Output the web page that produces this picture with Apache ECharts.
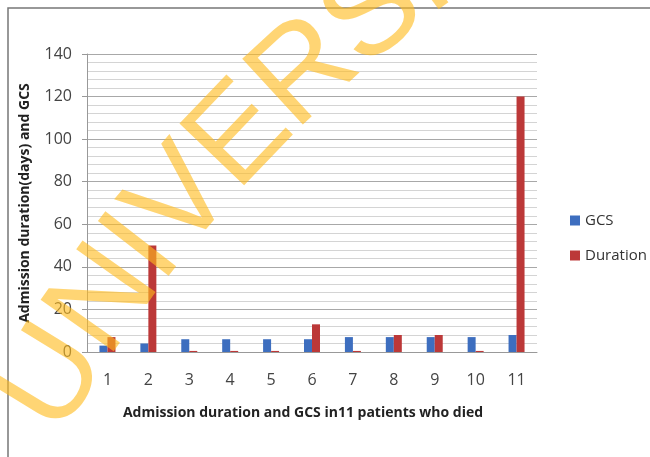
<!DOCTYPE html>
<html>
<head>
<meta charset="utf-8">
<script src="https://cdn.jsdelivr.net/npm/echarts@6/dist/echarts.min.js"></script>
<style>
  html, body { margin: 0; padding: 0; background: #fff; }
  #chart { width: 650px; height: 457px; }
</style>
</head>
<body>
<div id="chart"></div>
<script>
// patients 1..11
const categories = ['1', '2', '3', '4', '5', '6', '7', '8', '9', '10', '11']
const gcsValues = [3, 4, 6, 6, 6, 6, 7, 7, 7, 7, 8]
const durationValues = [7, 50, 0.5, 0.5, 0.5, 13, 0.5, 8, 8, 0.5, 120]
const yTicks = { min: 0, max: 140, interval: 20 }

const font = '"Open Sans", "Liberation Sans", sans-serif'
const chart = echarts.init(document.getElementById('chart'))

// scanned watermark: letters set along a big arc
const wmLetters = ['U', 'N', 'I', 'V', 'E', 'R', 'S', 'I', 'T', 'Y']
const wmAdvance = { U: 0.722, N: 0.722, I: 0.278, V: 0.667, E: 0.667, R: 0.722, S: 0.667, T: 0.611, Y: 0.667 }
function watermark() {
  const cx = 1278, cy = 1130, r = 1436, size = 130
  const phi0 = Math.atan2(379 - cy, 53 - cx)
  const out = []
  let s = -wmAdvance.U * size / 2
  wmLetters.forEach(ch => {
    const w = wmAdvance[ch] * size
    const phi = phi0 + (s + w / 2) / r
    s += w
    out.push({
      type: 'text',
      x: cx + r * Math.cos(phi),
      y: cy + r * Math.sin(phi),
      rotation: -phi - Math.PI / 2,
      z: 100,
      silent: true,
      style: {
        text: ch,
        fontFamily: '"Liberation Sans", Arial, sans-serif',
        fontSize: size,
        fill: 'rgba(255, 188, 30, 0.62)',
        align: 'center',
        verticalAlign: 'middle'
      }
    })
  })
  return out
}

const option = {
  animation: false,
  grid: { left: 87, right: 113, top: 54, bottom: 105 },
  legend: {
    orient: 'vertical',
    left: 565,
    top: 208,
    icon: 'rect',
    itemWidth: 10,
    itemHeight: 10,
    itemGap: 20,
    textStyle: { fontFamily: font, fontSize: 15, color: '#333' },
    data: ['GCS', 'Duration']
  },
  xAxis: {
    type: 'category',
    data: categories,
    axisLine: { lineStyle: { color: '#999' } },
    axisTick: { show: false },
    axisLabel: { fontFamily: font, fontSize: 16, color: '#444', margin: 20 }
  },
  yAxis: {
    type: 'value',
    min: yTicks.min,
    max: yTicks.max,
    interval: yTicks.interval,
    name: 'Admission duration(days) and GCS',
    nameLocation: 'middle',
    nameGap: 55,
    nameTextStyle: { fontFamily: font, fontSize: 14, fontWeight: 'bold', color: '#222' },
    axisLine: { show: true, lineStyle: { color: '#999' } },
    axisTick: { show: true, length: 5, lineStyle: { color: '#999' } },
    axisLabel: { fontFamily: font, fontSize: 16, color: '#444', margin: 15 },
    splitLine: { lineStyle: { color: '#a8a8a8' } },
    minorTick: { show: false, splitNumber: 5 },
    minorSplitLine: { show: true, lineStyle: { color: '#d4d4d4' } }
  },
  series: [
    {
      name: 'GCS',
      type: 'bar',
      data: gcsValues,
      barWidth: 8,
      barGap: '0%',
      itemStyle: { color: '#3D6EBF' }
    },
    {
      name: 'Duration',
      type: 'bar',
      data: durationValues,
      barWidth: 8,
      itemStyle: { color: '#BC3838' }
    }
  ],
  graphic: [
    {
      type: 'rect',
      shape: { x: 8, y: 8, width: 800, height: 600 },
      style: { fill: 'none', stroke: '#777', lineWidth: 1.5 },
      silent: true
    },
    {
      type: 'text',
      x: 303,
      y: 413,
      style: {
        text: 'Admission duration and GCS in11 patients who died',
        fontFamily: font,
        fontSize: 14,
        fontWeight: 'bold',
        fill: '#222',
        align: 'center',
        verticalAlign: 'middle'
      }
    }
  ].concat(watermark())
}

chart.setOption(option)
</script>
</body>
</html>
